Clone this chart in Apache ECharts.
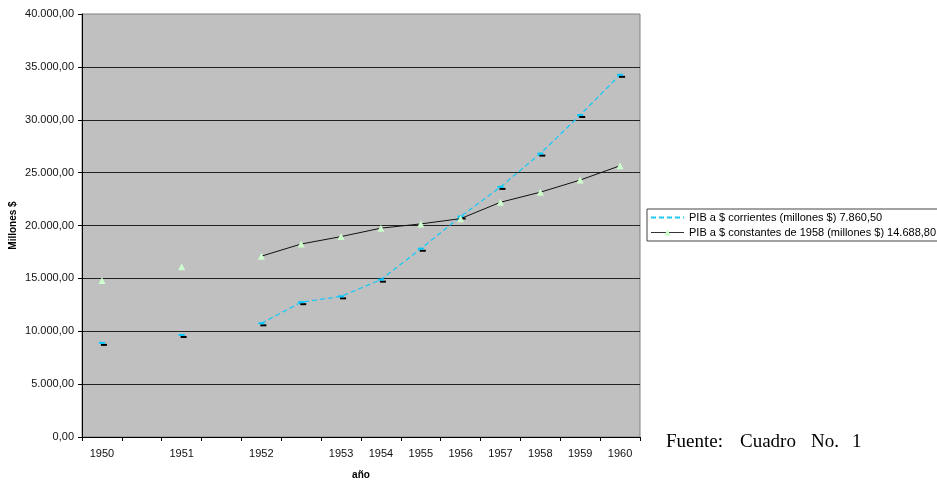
<!DOCTYPE html>
<html>
<head>
<meta charset="utf-8">
<script src="https://cdn.jsdelivr.net/npm/echarts@6/dist/echarts.min.js"></script>
<style>
html,body{margin:0;padding:0;background:#fff;}
#chart{width:937px;height:480px;}
</style>
</head>
<body>
<div id="chart"></div>
<script>
const categories = ['1950','','1951','','1952','','1953','1954','1955','1956','1957','1958','1959','1960'];
const corrientes = [8900, null, 9650, null, 10750, 12750, 13300, 14880, 17800, 20850, 23650, 26800, 30450, 34250];
const constantes = [14800, null, 16100, null, 17100, 18250, 18950, 19750, 20150, 20650, 22200, 23150, 24300, 25650];
const seriesNames = ['PIB a $ corrientes (millones $) 7.860,50', 'PIB a $ constantes de 1958 (millones $) 14.688,80'];

function fmt(v){
  const s = Math.round(v).toString().replace(/\B(?=(\d{3})+(?!\d))/g, '.');
  return s + ',00';
}

const chart = echarts.init(document.getElementById('chart'), null, {renderer:'canvas'});
const font = 'Liberation Sans, Arial, sans-serif';
const serif = '19px "Liberation Serif", "Times New Roman", serif';
chart.setOption({
  animation: false,
  backgroundColor: '#fff',
  textStyle: {fontFamily: font},
  grid: {left: 82, right: 297, top: 14, bottom: 43, containLabel: false, outerBoundsMode: 'none',
         show: true, backgroundColor: '#c0c0c0', borderColor: '#808080', borderWidth: 1},
  legend: {
    orient: 'vertical', left: 647, top: 209,
    borderColor: '#444', borderWidth: 1, padding: [3, 12, 3, 3], itemGap: 4,
    itemWidth: 33, itemHeight: 8,
    textStyle: {fontFamily: font, fontSize: 11, color: '#000'},
    data: [
      {name: seriesNames[0], itemStyle: {opacity: 0}},
      {name: seriesNames[1], itemStyle: {color: '#ccffcc', borderWidth: 0}, lineStyle: {width: 1, color: '#333'}}
    ]
  },
  xAxis: {
    type: 'category', data: categories, boundaryGap: true,
    name: 'año', nameLocation: 'middle', nameGap: 33,
    nameTextStyle: {fontFamily: font, fontSize: 10, fontWeight: 'bold', color: '#000'},
    axisLine: {lineStyle: {color: '#000', width: 1}},
    axisTick: {show: true, length: 4, interval: 0, lineStyle: {color: '#000'}},
    axisLabel: {interval: 0, fontSize: 11, color: '#111', margin: 11, fontFamily: font},
    splitLine: {show: false}
  },
  yAxis: {
    type: 'value', min: 0, max: 40000, interval: 5000,
    name: 'Millones $', nameLocation: 'middle', nameGap: 64, nameRotate: 90, nameMoveOverlap: false,
    nameTextStyle: {fontFamily: font, fontSize: 10, fontWeight: 'bold', color: '#000'},
    axisLine: {show: true, lineStyle: {color: '#000', width: 1}},
    axisTick: {show: true, length: 4, lineStyle: {color: '#000'}},
    axisLabel: {formatter: fmt, fontSize: 11, color: '#111', margin: 8, fontFamily: font},
    splitLine: {show: true, showMaxLine: false, lineStyle: {color: '#222', width: 1}}
  },
  series: [
    {
      name: seriesNames[0], type: 'line', data: corrientes, connectNulls: false,
      symbol: 'rect', symbolSize: [6, 2],
      lineStyle: {color: '#1ec8f5', width: 1.3, type: [5, 3]},
      itemStyle: {color: '#00c8ff', shadowColor: '#000', shadowOffsetX: 2, shadowOffsetY: 2, shadowBlur: 0},
      z: 2
    },
    {
      name: seriesNames[1], type: 'line', data: constantes, connectNulls: false,
      symbol: 'triangle', symbolSize: 7,
      lineStyle: {color: '#111', width: 1},
      itemStyle: {color: '#ccffcc'},
      z: 3
    }
  ],
  graphic: [
    {type: 'text', left: 666, top: 433, style: {text: 'Fuente:', font: serif, fill: '#000'}},
    {type: 'text', left: 740, top: 433, style: {text: 'Cuadro', font: serif, fill: '#000'}},
    {type: 'text', left: 811, top: 433, style: {text: 'No.', font: serif, fill: '#000'}},
    {type: 'text', left: 852, top: 433, style: {text: '1', font: serif, fill: '#000'}}
  ]
});
</script>
</body>
</html>
